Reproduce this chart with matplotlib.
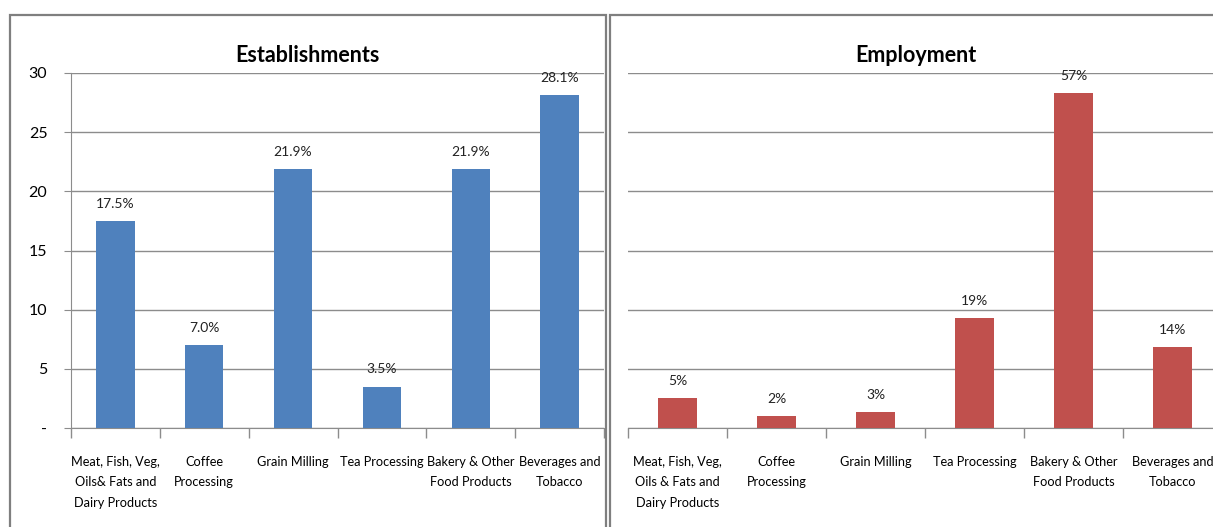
import matplotlib
matplotlib.use("Agg")
from matplotlib import pyplot as plt
from matplotlib.patches import Rectangle

categories = ["Meat, Fish, Veg,\nOils& Fats and\nDairy Products", "Coffee\nProcessing",
              "Grain Milling", "Tea Processing", "Bakery & Other\nFood Products",
              "Beverages and\nTobacco"]
categories_emp = ["Meat, Fish, Veg,\nOils & Fats and\nDairy Products", "Coffee\nProcessing",
                  "Grain Milling", "Tea Processing", "Bakery & Other\nFood Products",
                  "Beverages and\nTobacco"]
est_values = [17.5, 7.0, 21.9, 3.5, 21.9, 28.1]
est_labels = ["17.5%", "7.0%", "21.9%", "3.5%", "21.9%", "28.1%"]
emp_values = [5.0, 2.0, 2.7, 18.6, 56.6, 13.7]
emp_labels = ["5%", "2%", "3%", "19%", "57%", "14%"]
est_yticks = [0, 5, 10, 15, 20, 25, 30]
est_yticklabels = ["-", "5", "10", "15", "20", "25", "30"]
emp_yticks = [0, 10, 20, 30, 40, 50, 60]

plt.rcParams['font.family'] = ['Lato', 'DejaVu Sans']
W, H = 1213, 527
fig = plt.figure(figsize=(W / 100, H / 100), dpi=100)

grid_c = "#8c8c8c"
frame_c = "#7f7f7f"

# panel frames
for x0, x1 in [(10, 606), (610, 1230)]:
    fig.patches.append(Rectangle((x0 / W, -0.1), (x1 - x0) / W, 1.1 - 15 / H,
                                 transform=fig.transFigure, fill=False,
                                 edgecolor=frame_c, lw=1.6))


def draw(ax, vals, labels, cats, ticks, color, width):
    x = range(len(vals))
    bars = ax.bar(x, vals, width=width, color=color, zorder=3)
    for b, lab in zip(bars, labels):
        ax.annotate(lab, (b.get_x() + b.get_width() / 2, b.get_height()),
                    xytext=(0, 8), textcoords="offset points",
                    ha="center", va="bottom", fontsize=10, color="#222222")
    ax.set_xlim(-0.5, len(vals) - 0.5)
    ax.set_ylim(ticks[0], ticks[-1])
    ax.set_yticks(ticks)
    ax.yaxis.grid(True, color=grid_c, lw=1, zorder=0)
    ax.set_xticks([i - 0.5 for i in range(len(vals) + 1)], minor=False)
    ax.set_xticklabels([])
    ax.set_xticks(list(x), minor=True)
    ax.set_xticklabels(cats, minor=True, fontsize=9.2, linespacing=1.85, va="top")
    ax.tick_params(axis="x", which="major", length=7, color=grid_c, width=1)
    ax.tick_params(axis="x", which="minor", length=0, pad=20)
    ax.spines["top"].set_visible(False)
    ax.spines["right"].set_visible(False)
    ax.spines["bottom"].set_color(grid_c)
    ax.spines["left"].set_color(grid_c)


ax1 = fig.add_axes([71 / W, 1 - 428 / H, 533 / W, 355 / H])
draw(ax1, est_values, est_labels, categories, est_yticks, "#4f81bd", 0.43)
ax1.set_yticklabels(est_yticklabels, fontsize=11.5)
ax1.tick_params(axis="y", length=5, color=grid_c, pad=12)

ax2 = fig.add_axes([628 / W, 1 - 428 / H, 594 / W, 355 / H])
draw(ax2, emp_values, emp_labels, categories_emp, emp_yticks, "#c0504d", 0.4)
ax2.set_yticklabels([])
ax2.tick_params(axis="y", length=0)
ax2.spines["left"].set_visible(False)

fig.text(307 / W, 1 - 55 / H, "Establishments", ha="center", va="center",
         fontsize=15.5, fontweight="bold")
fig.text(916 / W, 1 - 55 / H, "Employment", ha="center", va="center",
         fontsize=15.5, fontweight="bold")

fig.savefig("out.png", dpi=100)
